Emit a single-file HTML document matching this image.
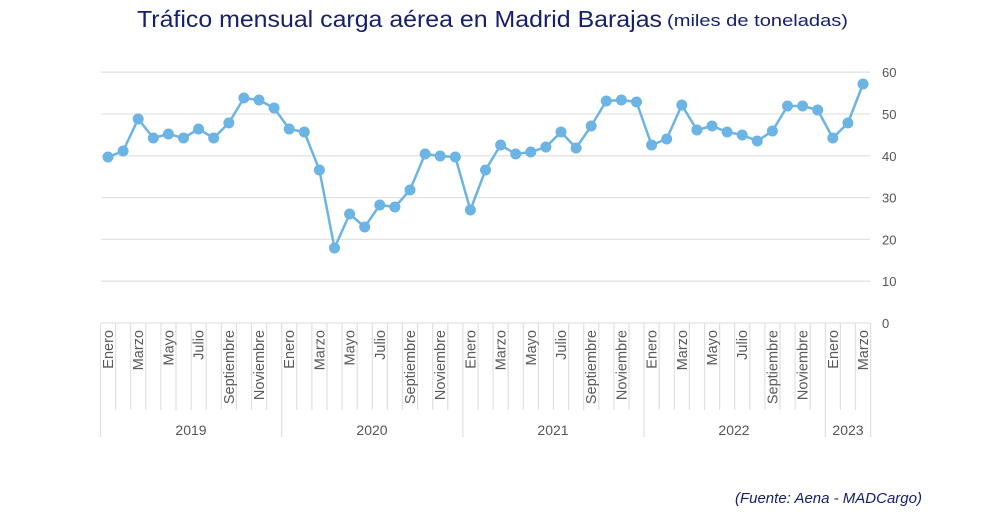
<!DOCTYPE html>
<html><head><meta charset="utf-8"><style>
html,body{margin:0;padding:0;background:#fff;width:1000px;height:515px;overflow:hidden}
svg{display:block;font-family:"Liberation Sans",sans-serif}
</style></head><body>
<svg id="s" width="1000" height="515" viewBox="0 0 1000 515">
<text x="137" y="27" fill="#17206b" font-size="23" textLength="525" lengthAdjust="spacingAndGlyphs">Tráfico mensual carga aérea en Madrid Barajas</text>
<text x="667" y="26" fill="#17206b" font-size="17" textLength="181" lengthAdjust="spacingAndGlyphs">(miles de toneladas)</text>
<text x="922" y="503" fill="#17206b" font-size="15" font-style="italic" text-anchor="end">(Fuente: Aena - MADCargo)</text>
<g id="g"></g>
</svg>
<script>
var g=document.getElementById("g"),h="";
var ys=[157,151,119,138,134,138,129,138,123,98,100,108,129,132,170,248,214,227,205,207,190,154,156,157,210,170,145,154,152,147,132,148,126,101,100,102,145,139,105,130,126,132,135,141,131,106,106,110,138,123,84];
for(var v=0;v<=6;v++){var y=323-v*41.8;h+='<line x1="101" x2="870" y1="'+y+'" y2="'+y+'" stroke="#e3e3e3" stroke-width="1.3"/>';h+='<text x="882" y="'+(y+5)+'" font-size="13" fill="#555">'+(v*10)+'</text>';}
for(var k=0;k<=51;k++){var x=100.5+k*15.1;var yr=(k%12==0||k==51);h+='<line x1="'+x+'" x2="'+x+'" y1="323" y2="'+(yr?437:410)+'" stroke="#e0e0e0" stroke-width="1.2"/>';}
var mn=["Enero","Marzo","Mayo","Julio","Septiembre","Noviembre"];
for(var i=0;i<51;i++){var m=i%12;if(m%2==0){var cx=108+i*15.1+5;h+='<text transform="translate('+cx+',330) rotate(-90)" text-anchor="end" font-size="14.5" fill="#5a5a5a">'+mn[m/2]+'</text>';}}
var yrs=[["2019",191],["2020",372],["2021",553],["2022",734],["2023",848]];
yrs.forEach(function(a){h+='<text x="'+a[1]+'" y="435" text-anchor="middle" font-size="14" fill="#555">'+a[0]+'</text>';});
var pts=ys.map(function(y,i){return (108+i*15.1).toFixed(1)+","+y}).join(" ");
h+='<polyline points="'+pts+'" fill="none" stroke="#6cb4e4" stroke-width="2.5"/>';
ys.forEach(function(y,i){h+='<circle cx="'+(108+i*15.1).toFixed(1)+'" cy="'+y+'" r="5.5" fill="#6cb4e4"/>';});
g.innerHTML=h;
</script>
</body></html>
